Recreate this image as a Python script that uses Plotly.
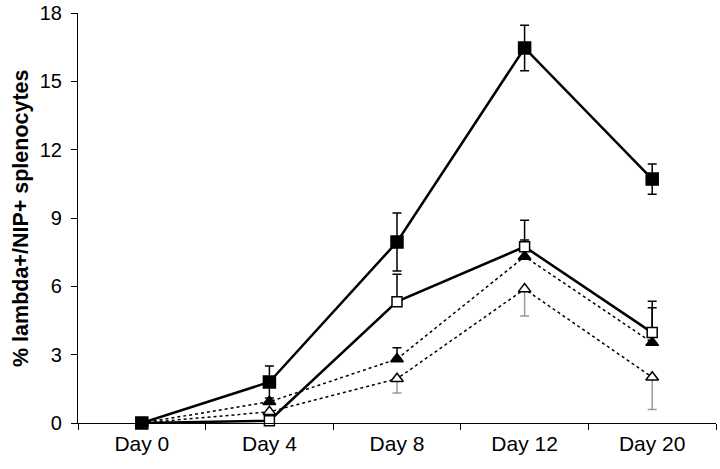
import plotly.graph_objects as go

days = ["Day 0", "Day 4", "Day 8", "Day 12", "Day 20"]

filled_sq = [0, 1.8, 7.95, 16.47, 10.71]
filled_sq_err = [0, 0.7, 1.27, 1.0, 0.66]

open_sq = [0, 0.1, 5.33, 7.74, 3.97]
open_sq_err = [0, 0, 1.2, 1.16, 1.38]

filled_tri = [0, 0.93, 2.81, 7.31, 3.53]
filled_tri_err = [0, 0, 0.5, 0.73, 1.53]

open_tri = [0, 0.49, 1.94, 5.88, 2.01]
open_tri_err = [0, 0, 0.62, 1.18, 1.42]

yticks = [0, 3, 6, 9, 12, 15, 18]
ytitle = "% lambda+/NIP+ splenocytes"

fig = go.Figure()

def add(y, err, symbol, fill, dash, lw, size, errcolor="black", minus=False, symmetric=False):
    if symmetric:
        ey = dict(type="data", array=err, symmetric=True, color=errcolor, thickness=1.5, width=4.5)
    elif minus:
        ey = dict(type="data", array=[0]*len(err), arrayminus=err, symmetric=False, color=errcolor, thickness=1.5, width=4.5)
    else:
        ey = dict(type="data", array=err, arrayminus=[0]*len(err), symmetric=False, color=errcolor, thickness=1.5, width=4.5)
    fig.add_trace(go.Scatter(
        x=days, y=y, mode="lines+markers",
        line=dict(color="black", width=lw, dash=dash),
        marker=dict(symbol=symbol, size=size, color=fill, line=dict(color="black", width=1.5)),
        error_y=ey, showlegend=False, cliponaxis=False,
    ))

add(open_tri, open_tri_err, "triangle-up", "white", "3px,3px", 1.5, 11, errcolor="#9a9a9a", minus=True)
add(filled_tri, filled_tri_err, "triangle-up", "black", "3px,3px", 1.5, 11)
add(open_sq, open_sq_err, "square", "white", "solid", 2.5, 10)
add(filled_sq, filled_sq_err, "square", "black", "solid", 2.5, 12, symmetric=True)

font = "Liberation Sans, Arial, sans-serif"
L, R, T, B = 78, 4, 13, 46
fig.update_layout(
    width=720, height=469,
    margin=dict(l=L, r=R, t=T, b=B),
    paper_bgcolor="white", plot_bgcolor="white",
    font=dict(family=font, color="black"),
    xaxis=dict(
        type="category", range=[-0.5, 4.5], tickson="boundaries", automargin=False,
        showline=True, linecolor="black", linewidth=1.2,
        ticks="outside", ticklen=6, tickcolor="black", tickwidth=1.2,
        tickfont=dict(size=21), showgrid=False, zeroline=False,
        ticklabelstandoff=2,
    ),
    yaxis=dict(
        range=[0, 18.005], tickmode="array", tickvals=yticks, ticktext=[str(v) for v in yticks],
        automargin=False, ticklabeloverflow="allow", ticklabelstandoff=5,
        showline=True, linecolor="black", linewidth=1.2,
        ticks="outside", ticklen=6, tickcolor="black", tickwidth=1.2,
        tickfont=dict(size=20), showgrid=False, zeroline=False,
    ),
    annotations=[dict(
        text="<b>" + ytitle + "</b>", textangle=-90, showarrow=False,
        xref="paper", yref="paper", x=(21 - L) / (720 - L - R), y=0.5,
        xanchor="center", yanchor="middle", font=dict(size=21.5),
    )],
)

fig.write_html(
    "out.html",
    config={"displayModeBar": False},
    post_script="document.body.style.margin='0px';document.body.style.overflow='hidden';",
)
